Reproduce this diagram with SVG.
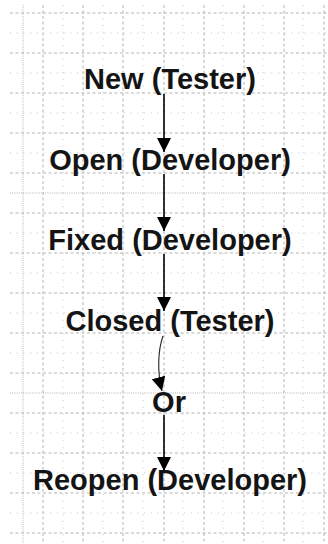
<svg xmlns="http://www.w3.org/2000/svg" width="328" height="544" viewBox="0 0 328 544">
<style>
.bg{fill:#ffffff}
.major{stroke:#b4b4b4;stroke-width:1;stroke-dasharray:3 2.5;fill:none}
.minor{stroke:#c4c4c4;stroke-width:1;stroke-dasharray:1 5.7;fill:none}
.dense{stroke:#b4b4b4;stroke-width:1;stroke-dasharray:1 1.2;fill:none}
.lbl{font-family:"Liberation Sans",Arial,sans-serif;font-weight:bold;font-size:29px;fill:#141414;text-anchor:middle}
.edge{stroke:#000;stroke-width:1.6;fill:none}
.edge-thin{stroke:#222;stroke-width:1.1;fill:none}
</style>
<defs>
<marker id="ah" viewBox="0 0 10 10" refX="10" refY="5" markerWidth="14" markerHeight="14" markerUnits="userSpaceOnUse" orient="auto">
<path d="M0,0 L10,5 L0,10 z" fill="#000"/>
</marker>
</defs>
<rect class="bg" x="0" y="0" width="328" height="544"/>
<g id="grid">
<path class="minor" d="M10,33H328M10,73H328M10,113H328M10,153H328M10,233H328M10,273H328M10,313H328M10,353H328M10,433H328M10,473H328M10,513H328"/>
<path class="minor" d="M63,5V544M103,5V544M143,5V544M183,5V544M223,5V544M263,5V544M303,5V544"/>
<path class="dense" d="M10,193H328M10,393H328M23,5V544"/>
<path class="major" d="M10,13H328M10,53H328M10,93H328M10,133H328M10,173H328M10,213H328M10,253H328M10,293H328M10,333H328M10,373H328M10,413H328M10,453H328M10,493H328M10,533H328"/>
<path class="major" d="M43,5V544M83,5V544M123,5V544M164,5V544M204,5V544M244,5V544M284,5V544M324,5V544"/>
</g>
<g id="connectors">
<path class="edge" d="M164,94 L164,152" marker-end="url(#ah)"/>
<path class="edge" d="M164,174 L164,231" marker-end="url(#ah)"/>
<path class="edge" d="M164,254 L164,311" marker-end="url(#ah)"/>
<path class="edge-thin" d="M163,336 C158,350 157,372 162,391" marker-end="url(#ah)"/>
<path class="edge" d="M164,415 L164,471" marker-end="url(#ah)"/>
</g>
<g id="new"><text class="lbl" x="170" y="89">New (Tester)</text></g>
<g id="open"><text class="lbl" x="170" y="170">Open (Developer)</text></g>
<g id="fixed"><text class="lbl" x="170" y="250">Fixed (Developer)</text></g>
<g id="closed"><text class="lbl" x="170" y="331">Closed (Tester)</text></g>
<g id="or"><text class="lbl" x="169" y="412">Or</text></g>
<g id="reopen"><text class="lbl" x="170" y="490">Reopen (Developer)</text></g>
</svg>
